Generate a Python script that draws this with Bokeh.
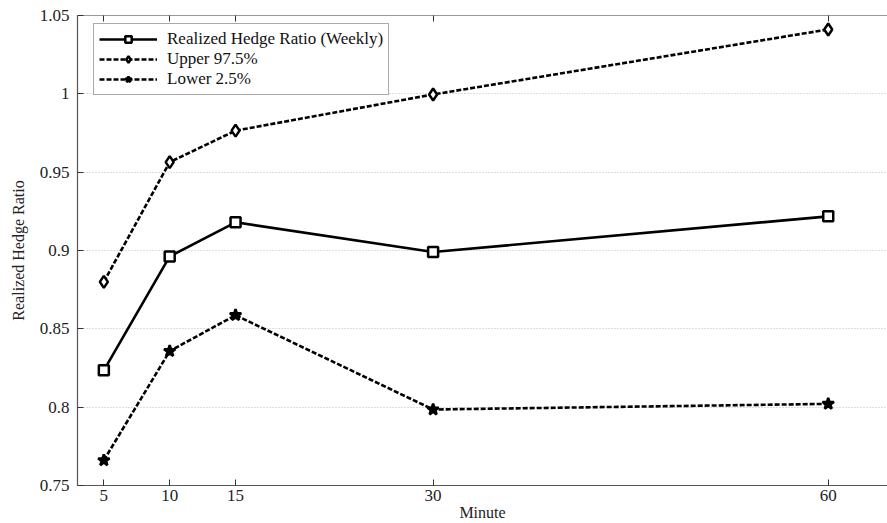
from bokeh.plotting import figure
from bokeh.models import Range1d, FixedTicker, LinearAxis, Legend, LegendItem
from bokeh.embed import file_html
from bokeh.resources import INLINE

minutes = [5, 10, 15, 30, 60]
weekly = [0.8235, 0.8962, 0.918, 0.899, 0.9218]
upper = [0.880, 0.9564, 0.9765, 0.9996, 1.0411]
lower = [0.7661, 0.8358, 0.8587, 0.7985, 0.8021]
y_ticks = [0.75, 0.8, 0.85, 0.9, 0.95, 1.0, 1.05]
y_tick_labels = {0.75: "0.75", 0.8: "0.8", 0.85: "0.85", 0.9: "0.9", 0.95: "0.95", 1.0: "1", 1.05: "1.05"}

FONT = "Liberation Serif, Times New Roman, serif"

p = figure(width=887, height=523, output_backend="svg", toolbar_location=None,
           x_range=Range1d(3, 64.5), y_range=Range1d(0.75, 1.05),
           min_border_left=77, min_border_right=0, min_border_top=15, min_border_bottom=36)
p.outline_line_color = None
p.background_fill_color = "white"
p.border_fill_color = "white"

p.xaxis.ticker = FixedTicker(ticks=minutes)
p.yaxis.ticker = FixedTicker(ticks=y_ticks)
p.yaxis.major_label_overrides = y_tick_labels
for ax in (p.xaxis[0], p.yaxis[0]):
    ax.major_tick_in = 6
    ax.major_tick_out = 0
    ax.minor_tick_in = 0
    ax.minor_tick_out = 0
    ax.axis_line_color = "#555555"
    ax.axis_line_width = 1.2
    ax.major_tick_line_color = "#333333"
    ax.major_label_text_font = FONT
    ax.major_label_text_font_size = "17px"
    ax.major_label_text_color = "#222222"
    ax.axis_label_text_font = FONT
    ax.axis_label_text_font_style = "normal"
    ax.axis_label_text_font_size = "16px"
    ax.axis_label_text_color = "#222222"
p.xaxis.axis_label = "Minute"
p.yaxis.axis_label = "Realized Hedge Ratio"
p.xaxis.major_label_standoff = 4
p.yaxis.major_label_standoff = 8
p.xaxis.axis_label_standoff = 0
p.yaxis.axis_label_standoff = 10

top = LinearAxis(ticker=FixedTicker(ticks=minutes),
                 major_label_overrides={5: "", 10: "", 15: "", 30: "", 60: ""},
                 major_label_standoff=0,
                 major_tick_in=6, major_tick_out=0, minor_tick_in=0, minor_tick_out=0,
                 axis_line_color="#999999", major_tick_line_color="#333333")
p.add_layout(top, "above")

p.xgrid.grid_line_color = None
p.ygrid.grid_line_color = "#bbbbbb"
p.ygrid.grid_line_dash = "1 2"
p.ygrid.grid_line_width = 1

lw = 2.6
dash = "5 2"
l1 = p.line(minutes, weekly, line_color="black", line_width=lw)
m1 = p.scatter(minutes, weekly, marker="square", size=10, line_color="black", line_width=2.5, fill_color="white")
l2 = p.line(minutes, upper, line_color="black", line_width=lw, line_dash=dash)
m2 = p.scatter(minutes, upper, marker="diamond", size=12, line_color="black", line_width=2.5, fill_color="white")
l3 = p.line(minutes, lower, line_color="black", line_width=lw, line_dash=dash)
m3 = p.scatter(minutes, lower, marker="star", size=12, line_color="black", line_width=2.5, fill_color="black")

legend = Legend(items=[
    LegendItem(label="Realized Hedge Ratio (Weekly)", renderers=[l1, m1]),
    LegendItem(label="Upper 97.5%", renderers=[l2, m2]),
    LegendItem(label="Lower 2.5%", renderers=[l3, m3]),
], location=(16, 390))
legend.label_text_font = FONT
legend.label_text_font_size = "17px"
legend.label_text_color = "#111111"
legend.glyph_width = 58
legend.glyph_height = 16
legend.label_height = 16
legend.spacing = 0
legend.padding = 5
legend.margin = 0
legend.label_standoff = 10
legend.border_line_color = "#555555"
legend.border_line_width = 1.2
legend.background_fill_alpha = 1
p.add_layout(legend, "center")

open("out.html", "w").write(file_html(p, INLINE))
